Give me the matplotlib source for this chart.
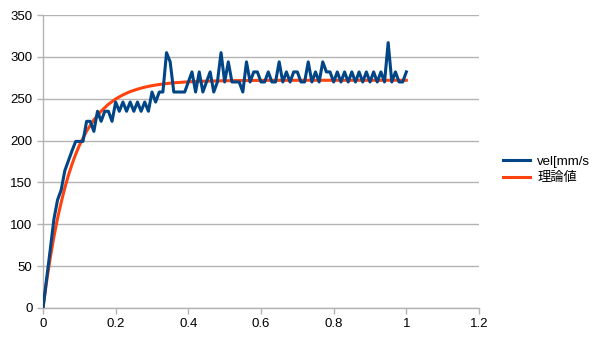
import matplotlib
matplotlib.use("Agg")
import matplotlib.pyplot as plt

plt.rcParams['font.family'] = ['Liberation Sans', 'Noto Sans CJK JP', 'DejaVu Sans']

# measured velocity (x step 0.01 from 0 to 1.0)
vel_x = [i / 100 for i in range(101)]
vel_y = [0, 35, 70, 106, 129, 141, 164, 176, 188, 199,
         199, 199, 223, 223, 211, 235, 223, 235, 235, 223,
         246, 235, 246, 235, 246, 235, 246, 235, 246, 235,
         258, 246, 258, 258, 305, 294, 258, 258, 258, 258,
         270, 282, 258, 282, 258, 270, 282, 258, 270, 305,
         270, 294, 270, 270, 270, 258, 294, 270, 282, 282,
         270, 270, 282, 270, 270, 294, 270, 282, 270, 282,
         282, 270, 270, 294, 270, 282, 270, 294, 282, 282,
         270, 282, 270, 282, 270, 282, 270, 282, 270, 282,
         270, 282, 270, 282, 270, 317, 270, 282, 270, 270,
         282]

# theoretical values
theo_x = [0.0, 0.01, 0.02, 0.03, 0.04, 0.05, 0.06, 0.07, 0.08, 0.09,
          0.10, 0.12, 0.14, 0.16, 0.18, 0.20, 0.22, 0.24, 0.26, 0.28,
          0.30, 0.32, 0.34, 0.36, 0.38, 0.40, 0.44, 0.48, 0.52, 0.60,
          0.70, 0.80, 0.90, 1.00]
theo_y = [0, 32, 60, 85, 107, 126, 143.5, 158.6, 171.9, 183.7,
          194.1, 211.3, 224.7, 235.2, 243.3, 249.7, 254.6, 258.5, 261.4, 263.8,
          265.6, 267.0, 268.1, 269.0, 269.6, 270.2, 270.9, 271.3, 271.6, 271.9,
          272, 272, 272, 272]

labels = ['vel[mm/s', '理論値']
x_ticks = [0, 0.2, 0.4, 0.6, 0.8, 1.0, 1.2]
x_tick_labels = ['0', '0.2', '0.4', '0.6', '0.8', '1', '1.2']
y_ticks = [0, 50, 100, 150, 200, 250, 300, 350]

fig = plt.figure(figsize=(6.05, 3.4), dpi=100)
ax = fig.add_axes([43 / 605, 32 / 340, 436 / 605, 293 / 340])

grid_c = '#b3b3b3'
ax.plot(theo_x, theo_y, color='#ff420e', lw=2.2, zorder=3, label=labels[1],
        solid_joinstyle='round')
ax.plot(vel_x, vel_y, color='#004586', lw=2.2, zorder=4, label=labels[0],
        solid_joinstyle='round')

ax.set_xlim(0, 1.2)
ax.set_ylim(0, 350)
ax.set_xticks(x_ticks)
ax.set_xticklabels(x_tick_labels)
ax.set_yticks(y_ticks)
ax.yaxis.grid(True, color=grid_c, lw=1.0)
ax.set_axisbelow(True)
for s in ['top', 'right']:
    ax.spines[s].set_visible(False)
for s in ['left', 'bottom']:
    ax.spines[s].set_color(grid_c)
    ax.spines[s].set_linewidth(1.0)
ax.tick_params(axis='both', colors=grid_c, labelcolor='black', labelsize=9.5,
               length=4, width=1.0)

handles, lbls = ax.get_legend_handles_labels()
order = [1, 0]
fig.legend([handles[i] for i in order], [lbls[i] for i in order],
           loc='center left', bbox_to_anchor=(0.812, 0.5), frameon=False,
           fontsize=9.5, handlelength=2.0, handletextpad=0.6, labelspacing=0.3)

fig.savefig('out.png', dpi=100)
